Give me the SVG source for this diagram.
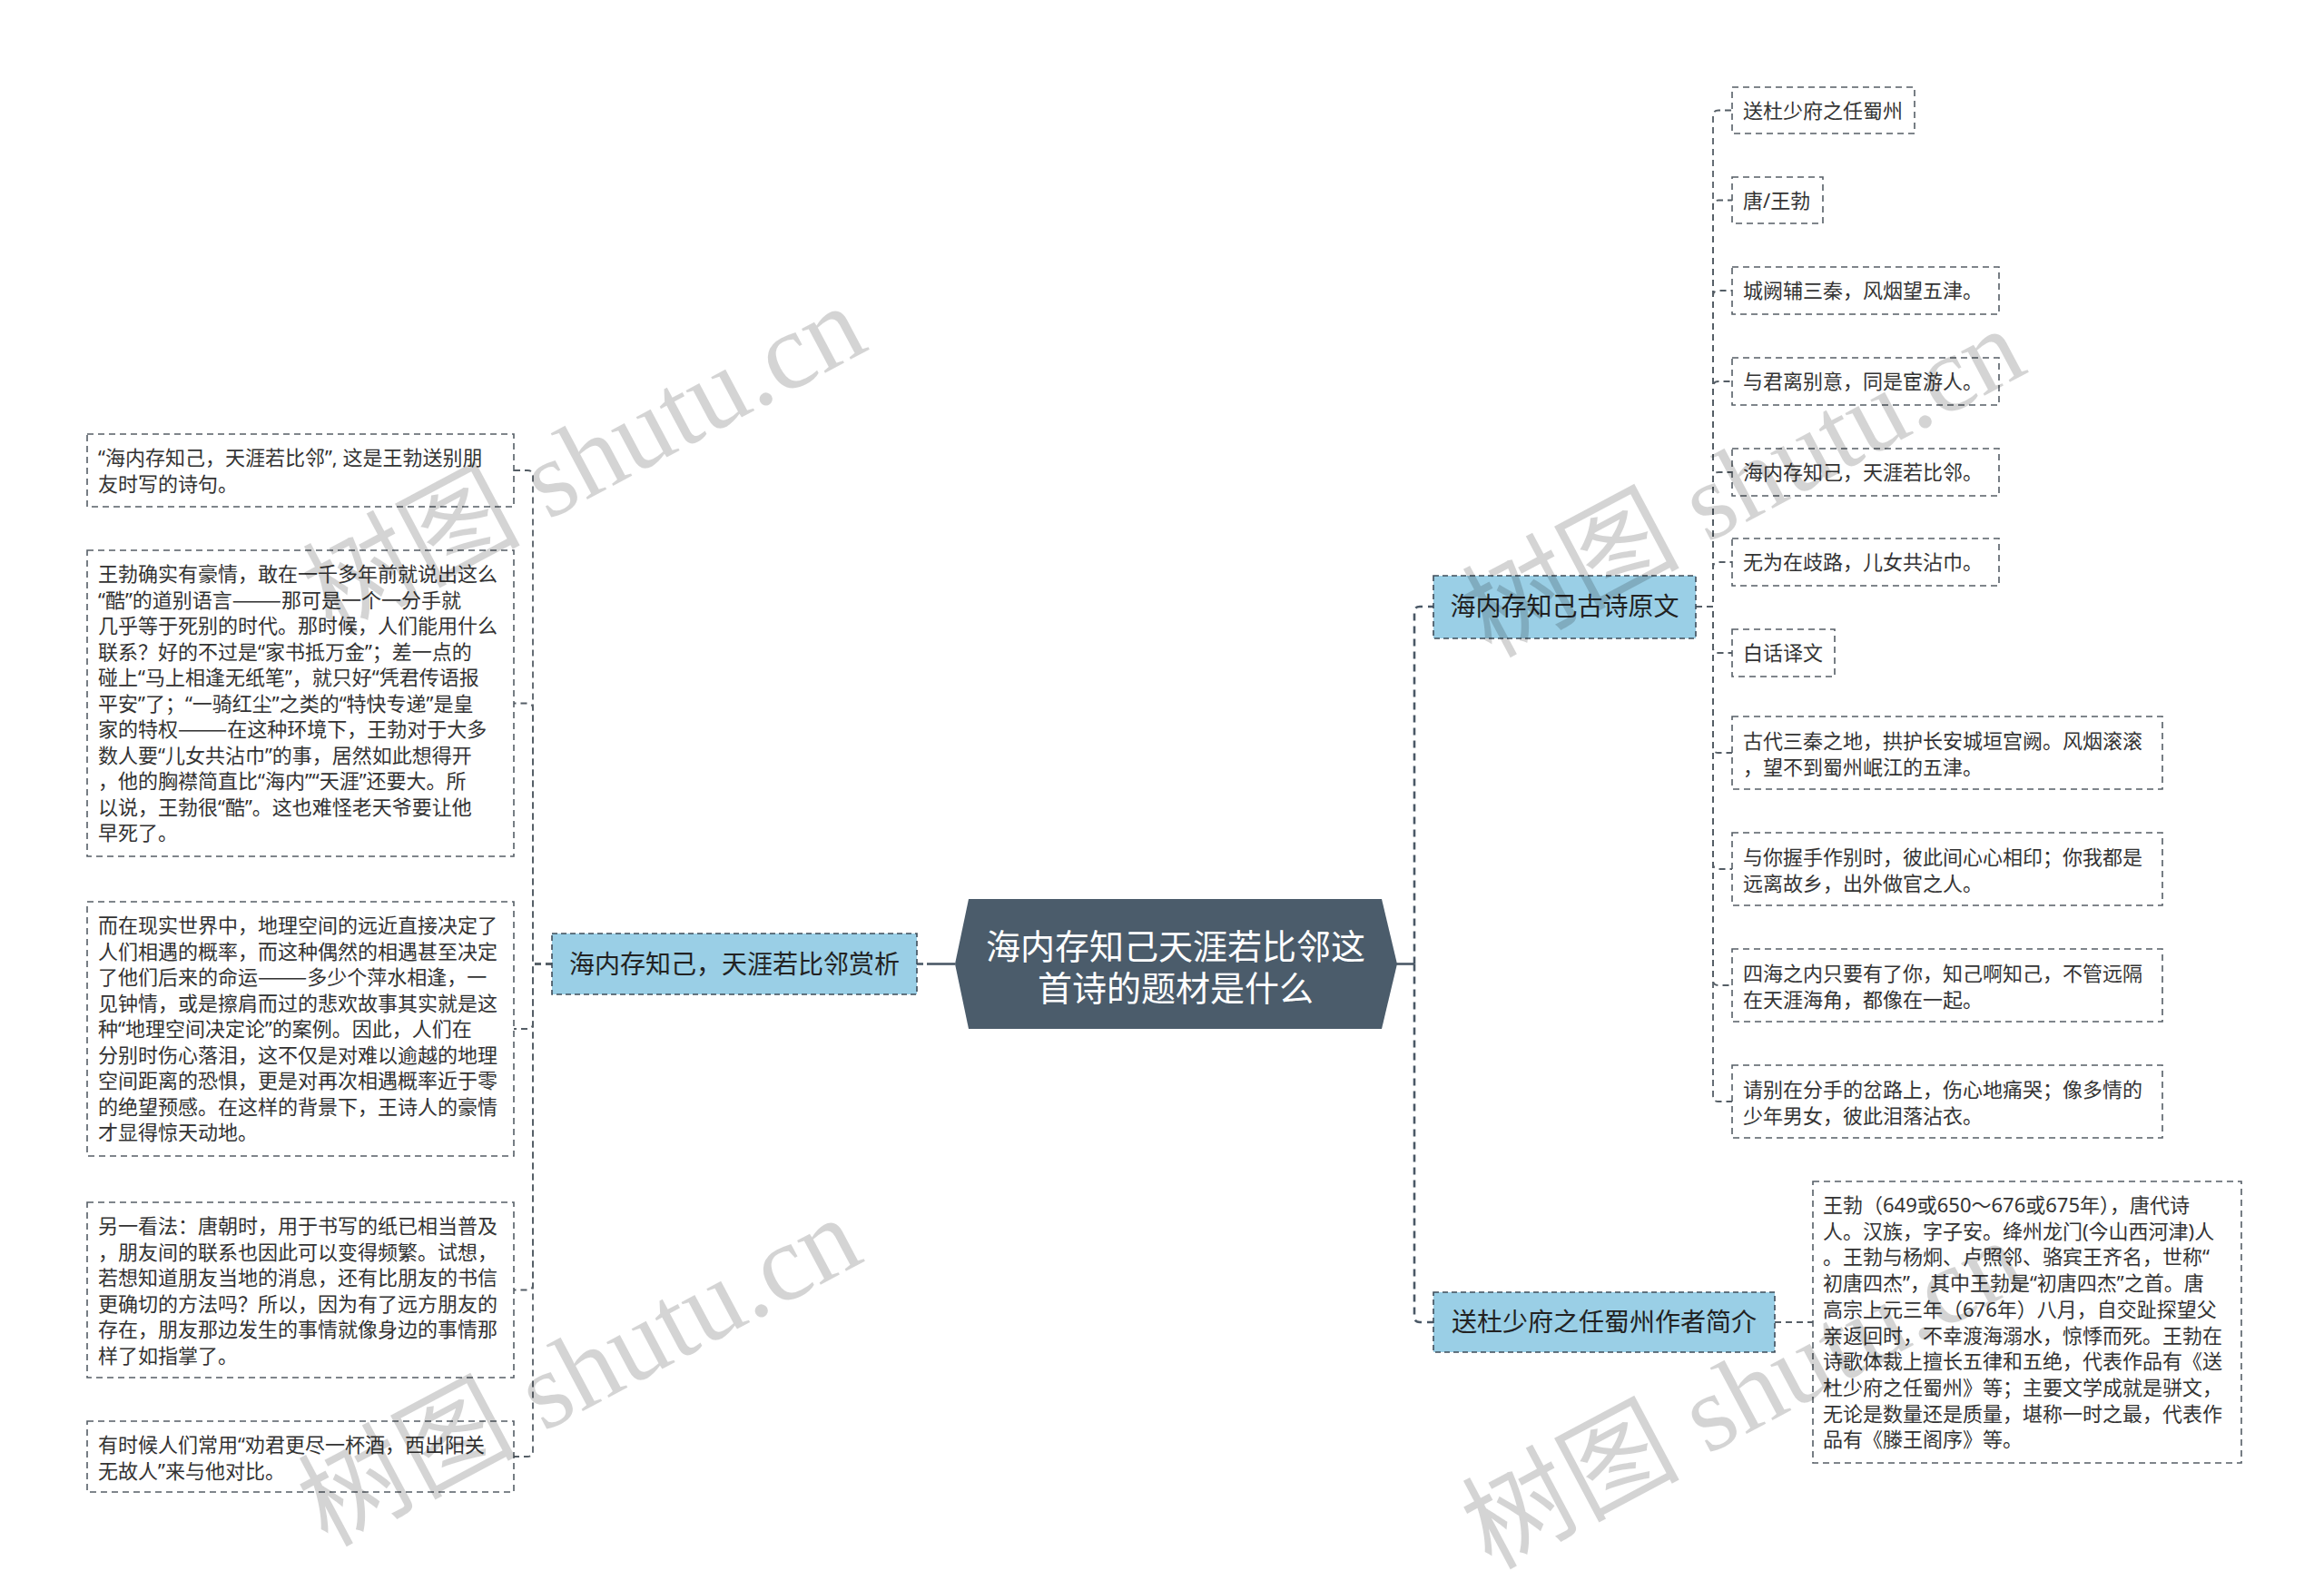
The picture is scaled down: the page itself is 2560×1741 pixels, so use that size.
<svg xmlns="http://www.w3.org/2000/svg" width="2560" height="1741" viewBox="0 0 2560 1741">
<style>
.leaf{fill:#ffffff;stroke:#555e66;stroke-width:1.6;stroke-dasharray:7 5}
.branch{fill:#9acfe6;stroke:#3f4d5a;stroke-width:1.6;stroke-dasharray:6 4}
.central{fill:#4b5c6b}
.lt{font-family:"Noto Sans","Noto Sans CJK SC",sans-serif;font-size:22px;fill:#333333}
.cj{font-family:"Noto Sans CJK SC",sans-serif}
.bt{font-family:"Noto Sans CJK SC","Noto Sans",sans-serif;font-size:28px;fill:#222222;text-anchor:middle}
.ct{font-family:"Noto Sans CJK SC","Noto Sans",sans-serif;font-size:38px;fill:#ffffff;text-anchor:middle}
.main{fill:none;stroke:#4a5866;stroke-width:2.6;stroke-dasharray:8 6}
.solid{fill:none;stroke:#4a5866;stroke-width:2.6}
.sub{fill:none;stroke:#555e66;stroke-width:1.8;stroke-dasharray:7 5}
.wm{font-size:120px;fill:#000000;fill-opacity:0.17}
.wmc{font-family:"Noto Sans CJK SC",sans-serif}
.wml{font-family:"Liberation Serif",serif}
</style>
<rect x="0" y="0" width="2560" height="1741" fill="#ffffff"/>
<g id="connectors">
<path class="solid" d="M1052,1061.5 H1021"/>
<path class="main" d="M1017,1061.5 H1010"/>
<path class="solid" d="M1538,1061.5 H1558"/>
<path class="main" d="M1558,1061.5 V674 Q1558,668 1564,668 H1579"/>
<path class="main" d="M1558,1061.5 V1450 Q1558,1456 1564,1456 H1579"/>
<path class="sub" d="M1955,1456 H1997"/>
<path class="sub" d="M1868,668 H1887 V127.5 Q1887,121.5 1893,121.5 H1908"/>
<path class="sub" d="M1868,668 H1887 V226.5 Q1887,220.5 1893,220.5 H1908"/>
<path class="sub" d="M1868,668 H1887 V326 Q1887,320 1893,320 H1908"/>
<path class="sub" d="M1868,668 H1887 V426 Q1887,420 1893,420 H1908"/>
<path class="sub" d="M1868,668 H1887 V526 Q1887,520 1893,520 H1908"/>
<path class="sub" d="M1868,668 H1887 V625 Q1887,619 1893,619 H1908"/>
<path class="sub" d="M1868,668 H1887 V713 Q1887,719 1893,719 H1908"/>
<path class="sub" d="M1868,668 H1887 V823 Q1887,829 1893,829 H1908"/>
<path class="sub" d="M1868,668 H1887 V951 Q1887,957 1893,957 H1908"/>
<path class="sub" d="M1868,668 H1887 V1079 Q1887,1085 1893,1085 H1908"/>
<path class="sub" d="M1868,668 H1887 V1207 Q1887,1213 1893,1213 H1908"/>
<path class="sub" d="M608,1061.5 H587 V524 Q587,518 581,518 H566"/>
<path class="sub" d="M608,1061.5 H587 V780.5 Q587,774.5 581,774.5 H566"/>
<path class="sub" d="M608,1061.5 H587 V1127 Q587,1133 581,1133 H566"/>
<path class="sub" d="M608,1061.5 H587 V1414.5 Q587,1420.5 581,1420.5 H566"/>
<path class="sub" d="M608,1061.5 H587 V1598 Q587,1604 581,1604 H566"/>
</g>
<g id="central">
<polygon class="central" points="1052,1061.5 1067,990 1522,990 1539,1061.5 1522,1133 1067,1133"/>
<text class="ct" x="1295" y="1056">海内存知己天涯若比邻这</text>
<text class="ct" x="1295" y="1102">首诗的题材是什么</text>
</g>
<g id="branch-analysis">
<rect class="branch" x="608" y="1028" width="402" height="67"/>
<text class="bt" x="809" y="1071.5">海内存知己，天涯若比邻赏析</text>
</g>
<g id="branch-poem">
<rect class="branch" x="1579" y="634" width="289" height="69"/>
<text class="bt" x="1723.5" y="678">海内存知己古诗原文</text>
</g>
<g id="branch-author">
<rect class="branch" x="1579" y="1423" width="376" height="66"/>
<text class="bt" x="1767" y="1466">送杜少府之任蜀州作者简介</text>
</g>
<g id="l1">
<rect class="leaf" x="96" y="478" width="470" height="80"/>
<text class="lt" x="108" y="512">“海内存知己，天涯若比邻”, 这是王勃送别朋<tspan x="108" dy="28.5">友时写的诗句。</tspan></text>
</g>
<g id="l2">
<rect class="leaf" x="96" y="606" width="470" height="337"/>
<text class="lt" x="108" y="640">王勃确实有豪情，敢在一千多年前就说出这么<tspan x="108" dy="28.5">“酷”的道别语言<tspan class="cj">———</tspan>那可是一个一分手就</tspan><tspan x="108" dy="28.5">几乎等于死别的时代。那时候，人们能用什么</tspan><tspan x="108" dy="28.5">联系？好的不过是“家书抵万金”；差一点的</tspan><tspan x="108" dy="28.5">碰上“马上相逢无纸笔”，就只好“凭君传语报</tspan><tspan x="108" dy="28.5">平安”了；“一骑红尘”之类的“特快专递”是皇</tspan><tspan x="108" dy="28.5">家的特权<tspan class="cj">———</tspan>在这种环境下，王勃对于大多</tspan><tspan x="108" dy="28.5">数人要“儿女共沾巾”的事，居然如此想得开</tspan><tspan x="108" dy="28.5">，他的胸襟简直比“海内”“天涯”还要大。所</tspan><tspan x="108" dy="28.5">以说，王勃很“酷”。这也难怪老天爷要让他</tspan><tspan x="108" dy="28.5">早死了。</tspan></text>
</g>
<g id="l3">
<rect class="leaf" x="96" y="993" width="470" height="280"/>
<text class="lt" x="108" y="1027">而在现实世界中，地理空间的远近直接决定了<tspan x="108" dy="28.5">人们相遇的概率，而这种偶然的相遇甚至决定</tspan><tspan x="108" dy="28.5">了他们后来的命运<tspan class="cj">———</tspan>多少个萍水相逢，一</tspan><tspan x="108" dy="28.5">见钟情，或是擦肩而过的悲欢故事其实就是这</tspan><tspan x="108" dy="28.5">种“地理空间决定论”的案例。因此，人们在</tspan><tspan x="108" dy="28.5">分别时伤心落泪，这不仅是对难以逾越的地理</tspan><tspan x="108" dy="28.5">空间距离的恐惧，更是对再次相遇概率近于零</tspan><tspan x="108" dy="28.5">的绝望预感。在这样的背景下，王诗人的豪情</tspan><tspan x="108" dy="28.5">才显得惊天动地。</tspan></text>
</g>
<g id="l4">
<rect class="leaf" x="96" y="1324" width="470" height="193"/>
<text class="lt" x="108" y="1358">另一看法：唐朝时，用于书写的纸已相当普及<tspan x="108" dy="28.5">，朋友间的联系也因此可以变得频繁。试想，</tspan><tspan x="108" dy="28.5">若想知道朋友当地的消息，还有比朋友的书信</tspan><tspan x="108" dy="28.5">更确切的方法吗？所以，因为有了远方朋友的</tspan><tspan x="108" dy="28.5">存在，朋友那边发生的事情就像身边的事情那</tspan><tspan x="108" dy="28.5">样了如指掌了。</tspan></text>
</g>
<g id="l5">
<rect class="leaf" x="96" y="1565" width="470" height="78"/>
<text class="lt" x="108" y="1599">有时候人们常用“劝君更尽一杯酒，西出阳关<tspan x="108" dy="28.5">无故人”来与他对比。</tspan></text>
</g>
<g id="r1">
<rect class="leaf" x="1908" y="96" width="201" height="51"/>
<text class="lt" x="1920" y="129.5">送杜少府之任蜀州</text>
</g>
<g id="r2">
<rect class="leaf" x="1908" y="195" width="100" height="51"/>
<text class="lt" x="1920" y="228.5">唐/王勃</text>
</g>
<g id="r3">
<rect class="leaf" x="1908" y="294" width="294" height="52"/>
<text class="lt" x="1920" y="328">城阙辅三秦，风烟望五津。</text>
</g>
<g id="r4">
<rect class="leaf" x="1908" y="394" width="294" height="52"/>
<text class="lt" x="1920" y="428">与君离别意，同是宦游人。</text>
</g>
<g id="r5">
<rect class="leaf" x="1908" y="494" width="294" height="52"/>
<text class="lt" x="1920" y="528">海内存知己，天涯若比邻。</text>
</g>
<g id="r6">
<rect class="leaf" x="1908" y="593" width="294" height="52"/>
<text class="lt" x="1920" y="627">无为在歧路，儿女共沾巾。</text>
</g>
<g id="r7">
<rect class="leaf" x="1908" y="693" width="113" height="52"/>
<text class="lt" x="1920" y="727">白话译文</text>
</g>
<g id="r8">
<rect class="leaf" x="1908" y="789" width="474" height="80"/>
<text class="lt" x="1920" y="824">古代三秦之地，拱护长安城垣宫阙。风烟滚滚<tspan x="1920" dy="28.5">，望不到蜀州岷江的五津。</tspan></text>
</g>
<g id="r9">
<rect class="leaf" x="1908" y="917" width="474" height="80"/>
<text class="lt" x="1920" y="952">与你握手作别时，彼此间心心相印；你我都是<tspan x="1920" dy="28.5">远离故乡，出外做官之人。</tspan></text>
</g>
<g id="r10">
<rect class="leaf" x="1908" y="1045" width="474" height="80"/>
<text class="lt" x="1920" y="1080">四海之内只要有了你，知己啊知己，不管远隔<tspan x="1920" dy="28.5">在天涯海角，都像在一起。</tspan></text>
</g>
<g id="r11">
<rect class="leaf" x="1908" y="1173" width="474" height="80"/>
<text class="lt" x="1920" y="1208">请别在分手的岔路上，伤心地痛哭；像多情的<tspan x="1920" dy="28.5">少年男女，彼此泪落沾衣。</tspan></text>
</g>
<g id="author">
<rect class="leaf" x="1997" y="1301" width="472" height="310"/>
<text class="lt" x="2008" y="1335">王勃（649或650～676或675年），唐代诗<tspan x="2008" dy="28.7">人。汉族，字子安。绛州龙门(今山西河津)人</tspan><tspan x="2008" dy="28.7">。王勃与杨炯、卢照邻、骆宾王齐名，世称“</tspan><tspan x="2008" dy="28.7">初唐四杰”，其中王勃是“初唐四杰”之首。唐</tspan><tspan x="2008" dy="28.7">高宗上元三年（676年）八月，自交趾探望父</tspan><tspan x="2008" dy="28.7">亲返回时，不幸渡海溺水，惊悸而死。王勃在</tspan><tspan x="2008" dy="28.7">诗歌体裁上擅长五律和五绝，代表作品有《送</tspan><tspan x="2008" dy="28.7">杜少府之任蜀州》等；主要文学成就是骈文，</tspan><tspan x="2008" dy="28.7">无论是数量还是质量，堪称一时之最，代表作</tspan><tspan x="2008" dy="28.7">品有《滕王阁序》等。</tspan></text>
</g>
<g id="watermarks">
<text class="wm" transform="translate(365,700) rotate(-28)"><tspan class="wmc">树图</tspan><tspan class="wml"> shutu.cn</tspan></text>
<text class="wm" transform="translate(360,1704) rotate(-28)"><tspan class="wmc">树图</tspan><tspan class="wml"> shutu.cn</tspan></text>
<text class="wm" transform="translate(1642,725) rotate(-28)"><tspan class="wmc">树图</tspan><tspan class="wml"> shutu.cn</tspan></text>
<text class="wm" transform="translate(1642,1729) rotate(-28)"><tspan class="wmc">树图</tspan><tspan class="wml"> shutu.cn</tspan></text>
</g>
</svg>
